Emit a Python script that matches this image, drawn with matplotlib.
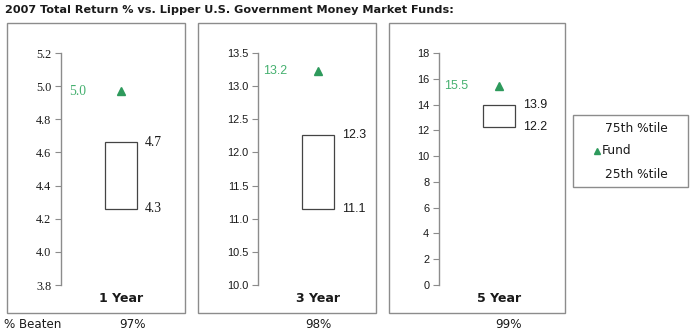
import matplotlib
matplotlib.use("Agg")
import matplotlib.pyplot as plt
from matplotlib.patches import Rectangle
import numpy as np

# ---- data ----
periods = ["1 Year", "3 Year", "5 Year"]
fund = [4.97, 13.23, 15.46]
p75 = [4.66, 12.27, 13.98]
p25 = [4.26, 11.15, 12.29]
fund_labels = ["5.0", "13.2", "15.5"]
p75_labels = ["4.7", "12.3", "13.9"]
p25_labels = ["4.3", "11.1", "12.2"]
beaten = ["97%", "98%", "99%"]
y_min = [3.8, 10.0, 0]
y_max = [5.2, 13.5, 18]
y_step = [0.2, 0.5, 2]
y_fmt = ["{:.1f}", "{:.1f}", "{:.0f}"]
title = "2007 Total Return % vs. Lipper U.S. Government Money Market Funds:"
legend_labels = ["75th %tile", "Fund", "25th %tile"]

# ---- style / layout ----
W, H = 694, 334
GREEN_M = "#2e9a5c"
GREEN_T = "#45b06f"
GRAY = "#8c8c8c"
TXT = "#1a1a1a"
axis_x = [61, 258, 439]
frame_x = [(7, 185), (198, 376), (389, 565)]
frame_y = (23, 313)
ax_top, ax_bot = 53, 285
ax_w = 130
box_c, box_w = 60, 32
fund_lab_x = 17
tick_fonts = ["Liberation Serif", "Liberation Sans", "Liberation Sans"]
tick_sizes = [8.8, 7.9, 7.9]

def fx(x):
    return x / W

def fy(y):
    return (H - y) / H

fig = plt.figure(figsize=(W / 100, H / 100), dpi=100)
fig.patch.set_facecolor("white")

fig.text(fx(5), fy(10), title, fontsize=8.1, fontweight="bold",
         family="DejaVu Sans", ha="left", va="center", color=TXT)

for i in range(3):
    # panel frame
    x0, x1 = frame_x[i]
    fig.patches.append(Rectangle((fx(x0), fy(frame_y[1])), fx(x1) - fx(x0),
                                 fy(frame_y[0]) - fy(frame_y[1]),
                                 transform=fig.transFigure, fill=False,
                                 edgecolor=GRAY, lw=1.0))
    ax = fig.add_axes([fx(axis_x[i]), fy(ax_bot), ax_w / W, (ax_bot - ax_top) / H])
    ax.set_xlim(0, ax_w)
    ax.set_ylim(y_min[i], y_max[i])
    ax.patch.set_alpha(0)
    for s in ["top", "right", "bottom"]:
        ax.spines[s].set_visible(False)
    ax.spines["left"].set_color(GRAY)
    ax.spines["left"].set_linewidth(1.0)
    ticks = np.arange(y_min[i], y_max[i] + y_step[i] / 2, y_step[i])
    ax.set_yticks(ticks)
    ax.set_yticklabels([y_fmt[i].format(t) for t in ticks],
                       family=tick_fonts[i], fontsize=tick_sizes[i], color=TXT)
    ax.tick_params(axis="y", length=4.5, width=0.8, color=GRAY, pad=2.5)
    ax.set_xticks([])

    # percentile box
    ax.add_patch(Rectangle((box_c - box_w / 2, p25[i]), box_w, p75[i] - p25[i],
                           fill=False, edgecolor="#444444", lw=0.9))
    ax.text(box_c + box_w / 2 + 8, p75[i], p75_labels[i], ha="left", va="center",
            family=tick_fonts[i], fontsize=tick_sizes[i] + 1.0, color=TXT)
    ax.text(box_c + box_w / 2 + 8, p25[i], p25_labels[i], ha="left", va="center",
            family=tick_fonts[i], fontsize=tick_sizes[i] + 1.0, color=TXT)
    # fund marker
    ax.plot([box_c], [fund[i]], marker="^", markersize=6.3, color=GREEN_M, ls="none")
    ax.text(fund_lab_x, fund[i], fund_labels[i], ha="center", va="center",
            family=tick_fonts[i], fontsize=tick_sizes[i] + 1.0, color=GREEN_T)

    # period label
    fig.text(fx(axis_x[i] + box_c), fy(298), periods[i], ha="center", va="center",
             fontsize=9, fontweight="bold", family="DejaVu Sans", color=TXT)

# % beaten row
fig.text(fx(4), fy(325), "% Beaten", ha="left", va="center", fontsize=8.6,
         family="DejaVu Sans", color=TXT)
beaten_x = [133, 318, 509]
for i in range(3):
    fig.text(fx(beaten_x[i]), fy(325), beaten[i], ha="center", va="center",
             fontsize=8.6, family="DejaVu Sans", color=TXT)

# legend
fig.patches.append(Rectangle((fx(573), fy(187)), fx(688) - fx(573), fy(115) - fy(187),
                             transform=fig.transFigure, fill=False,
                             edgecolor=GRAY, lw=1.0))
leg_y = [128, 151, 174]
leg_x = [605, 602, 605]
for lab, xx, yy in zip(legend_labels, leg_x, leg_y):
    fig.text(fx(xx), fy(yy), lab, ha="left", va="center", fontsize=8.8,
             family="DejaVu Sans", color=TXT)
fig.lines.append(plt.Line2D([fx(597)], [fy(151)], transform=fig.transFigure,
                            marker="^", markersize=5, color=GREEN_M, ls="none"))

fig.savefig("out.png", dpi=100)
